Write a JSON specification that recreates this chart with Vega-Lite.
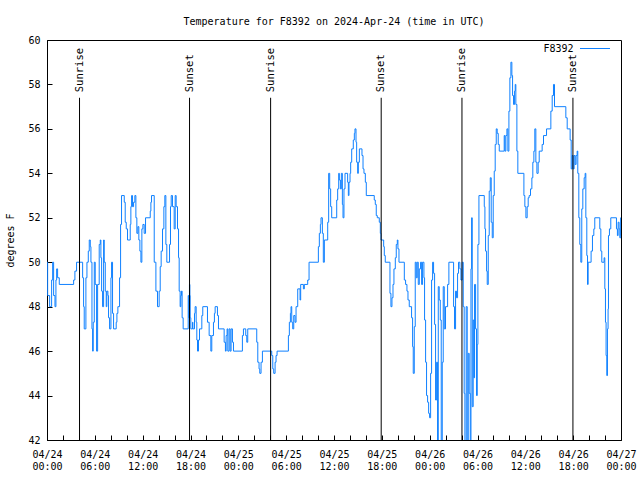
{
  "$schema": "https://vega.github.io/schema/vega-lite/v6.json",
  "width": 574,
  "height": 400,
  "autosize": {"type": "none"},
  "padding": {"left": 47, "top": 40, "right": 19, "bottom": 40},
  "background": "white",
  "title": {"text": "Temperature for F8392 on 2024-Apr-24 (time in UTC)", "font": "DejaVu Sans Mono", "fontSize": 10, "fontWeight": "normal", "color": "black", "anchor": "middle", "baseline": "bottom", "offset": -4},
  "config": {
    "view": {"stroke": "black", "strokeWidth": 1},
    "axis": {"grid": false, "domainColor": "black", "tickColor": "black", "labelColor": "black", "titleColor": "black", "labelFont": "DejaVu Sans Mono", "labelFontSize": 10, "titleFont": "DejaVu Sans Mono", "titleFontSize": 10, "titleFontWeight": "normal", "tickSize": -5, "labelPadding": 12}
  },
  "layer": [
    {
      "data": {"values": [
        {"h":0,"t":50},{"h":0.08,"t":48.5},{"h":0.33,"t":48},{"h":0.58,"t":49.2},{"h":0.71,"t":50},{"h":0.83,"t":48.5},{"h":1.0,"t":48},{"h":1.12,"t":49.2},{"h":1.21,"t":49.7},{"h":1.33,"t":49.3},{"h":1.54,"t":49},
        {"h":3.34,"t":49.2},{"h":3.5,"t":49.6},{"h":3.71,"t":50},{"h":4.47,"t":49.3},{"h":4.59,"t":48},{"h":4.67,"t":47},{"h":4.88,"t":49.3},{"h":5.01,"t":50},{"h":5.18,"t":50.5},{"h":5.3,"t":51},{"h":5.43,"t":50.7},{"h":5.51,"t":50},{"h":5.64,"t":47},{"h":5.72,"t":46},{"h":5.8,"t":47.3},{"h":5.93,"t":50},{"h":6.05,"t":49},{"h":6.22,"t":46},{"h":6.35,"t":49},{"h":6.55,"t":50.8},{"h":6.68,"t":51},{"h":6.76,"t":50.2},{"h":6.85,"t":48.7},{"h":6.97,"t":48},{"h":7.1,"t":51},{"h":7.18,"t":50},{"h":7.31,"t":48.7},{"h":7.43,"t":48},{"h":7.51,"t":48.7},{"h":7.64,"t":48.5},{"h":7.72,"t":47.5},{"h":7.85,"t":47},{"h":8.02,"t":49.3},{"h":8.1,"t":50},{"h":8.22,"t":47.7},{"h":8.35,"t":47},{"h":8.68,"t":47.3},{"h":8.77,"t":47.7},{"h":8.89,"t":48},{"h":9.1,"t":49.3},{"h":9.23,"t":51.7},{"h":9.35,"t":53},
        {"h":9.69,"t":52.7},{"h":9.81,"t":51.8},{"h":9.94,"t":51.5},{"h":10.1,"t":51},{"h":10.44,"t":51.7},{"h":10.52,"t":52.5},{"h":10.61,"t":53},{"h":10.73,"t":52.5},{"h":10.86,"t":52.7},{"h":11.02,"t":53},{"h":11.15,"t":52},{"h":11.27,"t":51.3},{"h":11.4,"t":51.6},{"h":11.52,"t":51},{"h":11.65,"t":50.5},{"h":11.78,"t":50},{"h":11.9,"t":51.5},{"h":12.03,"t":51.7},{"h":12.19,"t":51.3},{"h":12.36,"t":52},{"h":12.95,"t":52.3},{"h":13.03,"t":52.7},{"h":13.11,"t":53},{"h":13.45,"t":50},{"h":13.66,"t":48.7},{"h":13.86,"t":48},{"h":14.07,"t":48.7},{"h":14.2,"t":49.8},{"h":14.32,"t":50.5},{"h":14.49,"t":51.5},{"h":14.66,"t":52.5},{"h":14.78,"t":53},{"h":14.91,"t":50.8},{"h":15.03,"t":50},{"h":15.37,"t":50.8},{"h":15.49,"t":52.5},{"h":15.58,"t":53},{"h":15.74,"t":52.5},{"h":15.95,"t":51.5},{"h":16.08,"t":53},{"h":16.2,"t":52.5},{"h":16.37,"t":51.5},{"h":16.5,"t":50.2},{"h":16.58,"t":48.7},{"h":16.7,"t":48},{"h":16.79,"t":48.5},{"h":16.87,"t":48.7},{"h":16.95,"t":47.5},{"h":17.08,"t":47},{"h":17.71,"t":48.5},{"h":17.79,"t":47.5},{"h":17.87,"t":49},{"h":17.92,"t":48.5},{"h":17.96,"t":47.5},{"h":18.04,"t":47},{"h":18.25,"t":47.3},{"h":18.3,"t":47},
        {"h":18.5,"t":47.7},{"h":18.58,"t":48},{"h":18.71,"t":47.3},{"h":18.79,"t":46.5},{"h":18.88,"t":46},{"h":19.0,"t":46.5},{"h":19.13,"t":47},{"h":19.42,"t":47.6},{"h":19.54,"t":48},{"h":20.13,"t":47.3},{"h":20.34,"t":46.7},{"h":20.55,"t":46},{"h":20.67,"t":46.7},{"h":20.88,"t":47.3},{"h":21.0,"t":47.7},{"h":21.09,"t":48},{"h":21.38,"t":47.6},{"h":21.51,"t":47},{"h":22.22,"t":46.4},{"h":22.38,"t":46},{"h":22.47,"t":46.7},{"h":22.59,"t":47},{"h":22.68,"t":46},{"h":22.84,"t":47},{"h":22.97,"t":46},{"h":23.09,"t":47},{"h":23.26,"t":46.4},{"h":23.39,"t":46},{"h":24.51,"t":46.7},{"h":24.64,"t":47},{"h":24.93,"t":46.7},{"h":25.06,"t":46.4},{"h":25.18,"t":47},{"h":26.31,"t":46.4},{"h":26.44,"t":45.5},{"h":26.6,"t":45.2},{"h":26.69,"t":45},{"h":26.85,"t":45.5},{"h":27.02,"t":46},{"h":28.19,"t":45.8},{"h":28.32,"t":45.2},{"h":28.44,"t":45},{"h":28.61,"t":45.5},{"h":28.73,"t":45.8},{"h":28.86,"t":46},
        {"h":30.28,"t":46.7},{"h":30.4,"t":47.3},{"h":30.53,"t":47.7},{"h":30.61,"t":48},{"h":30.7,"t":47.3},{"h":30.82,"t":47},{"h":30.95,"t":47.6},{"h":31.11,"t":47.3},{"h":31.24,"t":48},{"h":31.45,"t":48.8},{"h":31.74,"t":48.3},{"h":31.82,"t":49},{"h":32.16,"t":48.8},{"h":32.28,"t":49},{"h":32.7,"t":49.2},{"h":32.87,"t":50},{"h":34.04,"t":50.7},{"h":34.16,"t":51.3},{"h":34.29,"t":51.7},{"h":34.37,"t":52},{"h":34.54,"t":51.3},{"h":34.66,"t":50},{"h":34.79,"t":51},{"h":35.21,"t":51.8},{"h":35.33,"t":54},{"h":35.46,"t":53.3},{"h":35.58,"t":52.5},{"h":35.71,"t":52},{"h":36.34,"t":52.8},{"h":36.46,"t":53.3},{"h":36.59,"t":54},{"h":36.67,"t":53.7},{"h":36.8,"t":53.3},{"h":36.92,"t":54},{"h":37.05,"t":52.6},{"h":37.13,"t":52},{"h":37.25,"t":53.3},{"h":37.38,"t":54},{"h":37.71,"t":53.6},{"h":37.8,"t":53},{"h":37.88,"t":53.6},{"h":38.01,"t":54},{"h":38.09,"t":54.5},{"h":38.22,"t":55.1},{"h":38.42,"t":55.5},{"h":38.55,"t":55.8},{"h":38.63,"t":56},{"h":38.76,"t":55.4},{"h":38.84,"t":54.5},{"h":38.97,"t":54},{"h":39.05,"t":54.5},{"h":39.18,"t":55.1},{"h":39.51,"t":54.8},{"h":39.64,"t":54.2},{"h":39.76,"t":54},{"h":39.93,"t":53.6},{"h":40.05,"t":53},
        {"h":41.05,"t":52.8},{"h":41.18,"t":52.6},{"h":41.3,"t":52.1},{"h":41.43,"t":52},{"h":41.68,"t":51.8},{"h":41.81,"t":51.3},{"h":41.89,"t":51},{"h":42.23,"t":50.7},{"h":42.31,"t":50.3},{"h":42.43,"t":50},{"h":43.02,"t":48.6},{"h":43.14,"t":48},{"h":43.27,"t":48.4},{"h":43.4,"t":49},{"h":43.52,"t":49.7},{"h":43.69,"t":50.2},{"h":43.81,"t":50.8},{"h":43.94,"t":51},{"h":44.02,"t":50.6},{"h":44.15,"t":50},{"h":44.82,"t":49.2},{"h":44.98,"t":49},{"h":45.15,"t":48.7},{"h":45.28,"t":48.3},{"h":45.44,"t":48},{"h":45.73,"t":47.5},{"h":45.86,"t":46.2},{"h":45.94,"t":45},{"h":46.07,"t":47.1},{"h":46.19,"t":50},{"h":46.32,"t":49.3},{"h":46.44,"t":50},{"h":46.57,"t":49},{"h":46.7,"t":49.7},{"h":46.86,"t":50},{"h":46.99,"t":49},{"h":47.11,"t":50},{"h":47.28,"t":49.3},{"h":47.36,"t":47.4},{"h":47.49,"t":45.5},{"h":47.61,"t":44},{"h":47.74,"t":43.7},{"h":47.87,"t":43.2},{"h":47.99,"t":43},{"h":48.12,"t":45},{"h":48.24,"t":49.2},{"h":48.37,"t":50},{"h":48.49,"t":49.5},{"h":48.62,"t":47.2},{"h":48.74,"t":43.8},{"h":48.87,"t":45.5},{"h":48.99,"t":41.5},{"h":49.08,"t":48.9},{"h":49.2,"t":48.3},{"h":49.33,"t":47.4},{"h":49.45,"t":41.5},{"h":49.58,"t":45.5},{"h":49.7,"t":48.9},{"h":49.83,"t":47},{"h":49.99,"t":48},{"h":50.25,"t":49},{"h":50.41,"t":50},
        {"h":51.0,"t":48},{"h":51.12,"t":47},{"h":51.25,"t":48.7},{"h":51.37,"t":48.4},{"h":51.5,"t":49.5},{"h":51.62,"t":50},{"h":51.79,"t":49.7},{"h":51.92,"t":49.2},{"h":52.08,"t":50},{"h":52.21,"t":48},{"h":52.33,"t":44.1},{"h":52.42,"t":41.5},{"h":52.58,"t":48},{"h":52.71,"t":41.5},{"h":52.84,"t":45.9},{"h":52.96,"t":44.1},{"h":53.09,"t":41.5},{"h":53.18,"t":49.7},{"h":53.26,"t":52},{"h":53.34,"t":43.5},{"h":53.46,"t":47.4},{"h":53.55,"t":44.8},{"h":53.63,"t":49},{"h":53.76,"t":47},{"h":53.88,"t":44},{"h":53.97,"t":46.3},{"h":54.05,"t":50.8},{"h":54.18,"t":53},
        {"h":54.85,"t":52.5},{"h":54.93,"t":51.5},{"h":55.01,"t":50.5},{"h":55.14,"t":49.6},{"h":55.22,"t":49},{"h":55.35,"t":51.2},{"h":55.47,"t":53.2},{"h":55.6,"t":53.8},{"h":55.72,"t":51.8},{"h":55.85,"t":51.1},{"h":55.97,"t":53},{"h":56.1,"t":54.1},{"h":56.22,"t":55.3},{"h":56.35,"t":56},{"h":56.47,"t":55.8},{"h":56.6,"t":55.3},{"h":56.73,"t":55},{"h":57.35,"t":55.7},{"h":57.44,"t":55},{"h":57.56,"t":55.7},{"h":57.69,"t":56},{"h":57.81,"t":55},{"h":57.94,"t":56.8},{"h":58.06,"t":58.3},{"h":58.19,"t":59},{"h":58.31,"t":58.4},{"h":58.4,"t":57.5},{"h":58.52,"t":57.1},{"h":58.65,"t":57.7},{"h":58.73,"t":58},{"h":58.81,"t":57.1},{"h":58.94,"t":55},{"h":59.06,"t":54},{"h":59.82,"t":53},{"h":59.94,"t":52.5},{"h":60.07,"t":52},{"h":60.23,"t":52.5},{"h":60.36,"t":52.9},{"h":60.48,"t":53},{"h":60.65,"t":53.3},{"h":60.82,"t":53.8},{"h":60.94,"t":54.5},{"h":61.07,"t":55},{"h":61.19,"t":56},{"h":61.32,"t":54.5},{"h":61.45,"t":54},{"h":61.61,"t":54.5},{"h":61.74,"t":55},{"h":62.11,"t":55.3},{"h":62.28,"t":55.7},{"h":62.66,"t":56},{"h":63.2,"t":56.8},{"h":63.37,"t":57.5},{"h":63.53,"t":58},{"h":63.66,"t":57},
        {"h":65.08,"t":56.5},{"h":65.25,"t":56},{"h":65.62,"t":55.5},{"h":65.75,"t":54.2},{"h":65.87,"t":54.8},{"h":66.0,"t":54.2},{"h":66.12,"t":54.8},{"h":66.25,"t":54.4},{"h":66.37,"t":54.8},{"h":66.5,"t":55},{"h":66.58,"t":54},{"h":66.71,"t":52},{"h":66.83,"t":50.8},{"h":66.96,"t":50},{"h":67.08,"t":52.4},{"h":67.21,"t":53.3},{"h":67.38,"t":53.8},{"h":67.5,"t":54},{"h":67.59,"t":52},{"h":67.71,"t":50.3},{"h":67.8,"t":49},{"h":67.88,"t":50},{"h":68.25,"t":50.5},{"h":68.42,"t":51.2},{"h":68.59,"t":51.5},{"h":68.71,"t":52},{"h":69.34,"t":51.5},{"h":69.47,"t":50.5},{"h":69.59,"t":50},{"h":69.88,"t":50.2},{"h":69.97,"t":48.8},{"h":70.05,"t":47.3},{"h":70.13,"t":45.8},{"h":70.22,"t":44.9},{"h":70.3,"t":47},{"h":70.38,"t":47.9},{"h":70.43,"t":51.2},{"h":70.55,"t":51.5},{"h":70.72,"t":52},{"h":71.43,"t":51.5},{"h":71.55,"t":51.2},{"h":71.64,"t":51.8},{"h":71.76,"t":51.5},{"h":71.85,"t":51.1},{"h":71.97,"t":52},{"h":72.0,"t":51.2}
      ]},
      "mark": {"type": "line", "interpolate": "step-after", "strokeWidth": 1, "clip": true},
      "encoding": {
        "x": {"field": "h", "type": "quantitative", "scale": {"domain": [0, 72], "nice": false, "zero": false},
          "axis": {"orient": "bottom", "title": null, "values": [0,2,4,6,8,10,12,14,16,18,20,22,24,26,28,30,32,34,36,38,40,42,44,46,48,50,52,54,56,58,60,62,64,66,68,70,72],
            "labelExpr": "datum.value % 6 == 0 ? ['04/' + (24 + floor(datum.value / 24)), (datum.value % 24 < 10 ? '0' : '') + (datum.value % 24) + ':00'] : ''",
            "labelLineHeight": 12, "labelPadding": 14, "labelFlush": false, "labelOverlap": false}},
        "y": {"field": "t", "type": "quantitative", "scale": {"domain": [42, 60], "nice": false, "zero": false},
          "axis": {"orient": "left", "title": "degrees F", "values": [42,44,46,48,50,52,54,56,58,60], "titlePadding": 12}},
        "color": {"datum": "F8392", "type": "nominal", "scale": {"range": ["#0f80ff"]},
          "legend": {"title": null, "orient": "none", "legendX": 529, "legendY": -7, "symbolType": "stroke", "symbolSize": 900, "symbolStrokeWidth": 1, "labelAlign": "right", "labelOffset": -37, "symbolOffset": 3.5, "labelFont": "DejaVu Sans Mono", "labelFontSize": 10, "labelColor": "black", "padding": 0, "offset": 0}}
      }
    },
    {
      "data": {"name": "events", "values": [
        {"h": 4.08, "event": "Sunrise"}, {"h": 17.88, "event": "Sunset"},
        {"h": 28.05, "event": "Sunrise"}, {"h": 41.92, "event": "Sunset"},
        {"h": 52.05, "event": "Sunrise"}, {"h": 65.97, "event": "Sunset"}
      ]},
      "layer": [
        {
          "mark": {"type": "rule", "color": "black", "strokeWidth": 1},
          "encoding": {
            "x": {"field": "h", "type": "quantitative", "scale": {"domain": [0, 72], "nice": false, "zero": false},
              "axis": {"orient": "top", "title": null, "labels": false, "values": [0,2,4,6,8,10,12,14,16,18,20,22,24,26,28,30,32,34,36,38,40,42,44,46,48,50,52,54,56,58,60,62,64,66,68,70,72]}},
            "y": {"datum": 57.4, "type": "quantitative", "scale": {"domain": [42, 60], "nice": false, "zero": false},
              "axis": {"orient": "right", "title": null, "labels": false, "values": [42,44,46,48,50,52,54,56,58,60]}},
            "y2": {"datum": 42}
          }
        },
        {
          "mark": {"type": "text", "angle": 270, "align": "left", "baseline": "middle", "font": "DejaVu Sans Mono", "fontSize": 10.5, "color": "black"},
          "encoding": {
            "x": {"field": "h", "type": "quantitative", "axis": null},
            "y": {"datum": 57.65, "type": "quantitative", "axis": null},
            "text": {"field": "event"}
          }
        }
      ]
    }
  ],
  "resolve": {"axis": {"x": "independent", "y": "independent"}}
}
